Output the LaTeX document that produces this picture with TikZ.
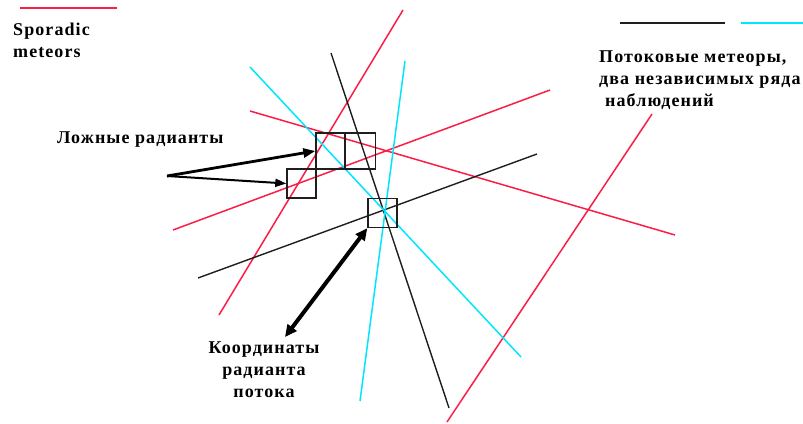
\documentclass[tikz,border=0pt]{standalone}
\usepackage{fontspec}
\setmainfont{Liberation Serif}[LetterSpace=6]
\usetikzlibrary{arrows.meta}
\definecolor{sporred}{RGB}{250,30,70}
\definecolor{streamcyan}{RGB}{0,230,255}
\definecolor{streamblack}{RGB}{30,30,30}

\begin{document}
\begin{tikzpicture}[x=1pt,y=-1pt,sporadic/.style={sporred, line width=1.5pt},streamA/.style={streamblack, line width=1.4pt},streamB/.style={streamcyan, line width=1.5pt},radbox/.style={draw=streamblack, line width=1.4pt, minimum size=29pt, inner sep=0pt},caption/.style={font=\fontsize{18}{22}\selectfont\bfseries, inner sep=0pt},pointer/.style={-{Triangle[length=12pt,width=9pt]}, line width=2.8pt}]
\useasboundingbox (0,0) rectangle (803,423);
% legend
\draw[sporadic, line width=2pt] (20,8) -- (117,8);
\draw[streamA, line width=2.6pt] (620,23) -- (725,23);
\draw[streamB, line width=2.6pt] (741,23) -- (803,23);
\node[caption, anchor=base west, align=left] (sporlabel) at (13,57) {Sporadic\\meteors};
\node[caption, anchor=base west, align=left] (streamlabel) at (599,106) {Потоковые метеоры,\\два независимых ряда\\\hspace{6pt}наблюдений};
% meteor tracks
\draw[sporadic] (403,10) -- (219,315); \draw[sporadic] (250,111) -- (675,235);
\draw[sporadic] (173,230) -- (550,90); \draw[sporadic] (652,114) -- (447,422);
\draw[streamA] (331,53) -- (449,408); \draw[streamA] (198,278) -- (537,154);
\draw[streamB] (250,67) -- (521,357); \draw[streamB] (405,61) -- (360,401);
% radiant boxes
\node[radbox, minimum height=36pt] (falseA) at (330.5,151) {};
\node[radbox, minimum height=36pt, minimum width=30pt] (falseB) at (360.5,151) {};
\node[radbox] (falseC) at (301.5,183.5) {};
\node[radbox] (trueR) at (382.5,213) {};
\node[caption, anchor=base west] (falselabel) at (57,143) {Ложные радианты};
\node[caption, anchor=base, align=center] (coordlabel) at (264,397) {Координаты\\радианта\\потока};
\coordinate (fork) at (167,176); \coordinate (tip) at (285,337);
\draw[pointer] (fork) -- (falseA.west);
\draw[pointer, line width=2pt, -{Triangle[length=11pt,width=8pt]}] (fork) -- (falseC.west);
\draw[pointer, line width=4pt, {Triangle[length=12pt,width=11pt]}-{Triangle[length=12pt,width=11pt]}] (tip) -- (trueR.south west);
\end{tikzpicture}
\end{document}
